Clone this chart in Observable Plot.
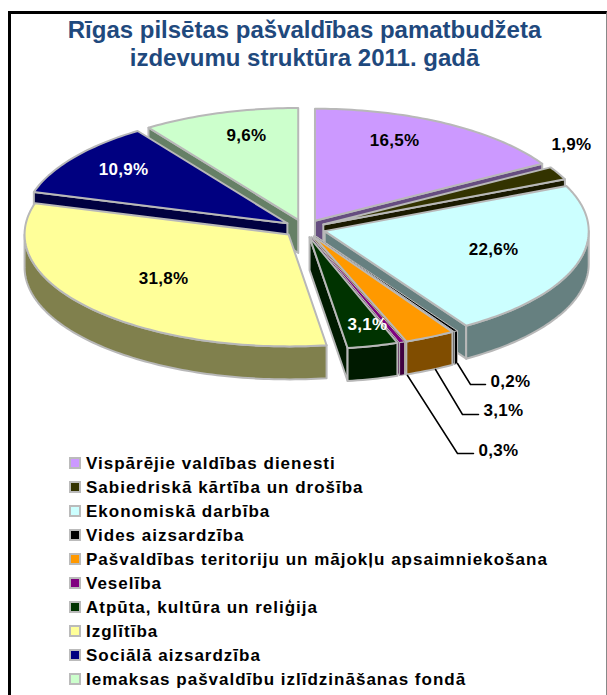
<!DOCTYPE html>
<html><head><meta charset="utf-8">
<script src="https://cdn.jsdelivr.net/npm/d3@7"></script>
<script src="https://cdn.jsdelivr.net/npm/@observablehq/plot@0.6"></script>
<style>
html,body{margin:0;padding:0;background:#fff;}
#page{position:relative;width:607px;height:695px;overflow:hidden;font-family:"Liberation Sans",Arial,sans-serif;}
#frame{position:absolute;left:8px;top:11px;width:599px;height:684px;border-left:3px solid #000;border-top:3px solid #000;border-right:1px solid #888;box-sizing:border-box;}
#title{position:absolute;left:0;width:609px;top:16px;text-align:center;color:#1F497D;font-weight:bold;font-size:24px;line-height:28px;}
#chart{position:absolute;left:0;top:90px;}
#legend{position:absolute;left:69px;top:454px;}
.row{position:relative;height:24px;line-height:20px;font-weight:bold;font-size:17px;letter-spacing:1px;color:#000;padding-left:17px;white-space:nowrap;}
.sw{position:absolute;left:0;top:3px;width:8px;height:8px;border:2px solid #bbb;}
svg text{font-family:"Liberation Sans",Arial,sans-serif;letter-spacing:.3px;}
</style></head><body>
<div id="page"><div id="frame"></div>
<div id="title">Rīgas pilsētas pašvaldības pamatbudžeta<br>izdevumu struktūra 2011. gadā</div>
<div id="chart"></div><div id="legend"></div></div>
<script>
const categories = ["Vispārējie valdības dienesti","Sabiedriskā kārtība un drošība","Ekonomiskā darbība","Vides aizsardzība","Pašvaldības teritoriju un mājokļu apsaimniekošana","Veselība","Atpūta, kultūra un reliģija","Izglītība","Sociālā aizsardzība","Iemaksas pašvaldību izlīdzināšanas fondā"];
const values = [16.5,1.9,22.6,0.2,3.1,0.3,3.1,31.8,10.9,9.6];
const valueLabels = ["16,5%","1,9%","22,6%","0,2%","3,1%","0,3%","3,1%","31,8%","10,9%","9,6%"];
const topColors = ["#CC99FF","#333300","#CCFFFF","#000000","#FF9900","#800080","#003300","#FFFF99","#000080","#CCFFCC"];
const wallColors = ["#664D80","#1A1A00","#668080","#000000","#804D00","#400040","#001A00","#80804D","#000040","#668066"];
const drawOrder = [0,9,8,1,2,3,4,7,5,6];

// unit-pie geometry: the x and y scales turn the unit circle into the tilted ellipse
const W = 607, H = 370, top0 = 90;
const cx = 304, cy = 228 - top0, rx = 264, ry = 112;
const explode = 0.08, depth = 33 / ry;
const edge = "#b8b8b8";
const pie = d3.pie().sort(null).startAngle(0).endAngle(2*Math.PI)(values);
const P = (a, ox, oy) => ({u: ox + Math.sin(a), v: oy + Math.cos(a)});
const arcPts = (a0, a1, ox, oy) => {
  const n = Math.max(2, Math.ceil((a1-a0)/0.02));
  return d3.range(n+1).map(i => P(a0 + (a1-a0)*i/n, ox, oy));
};
const marks = [];
const poly = (pts, fill, sw=2) => marks.push(Plot.line(pts, {x:"u", y:"v", fill, stroke:edge, strokeWidth:sw, curve:"linear-closed", strokeLinejoin:"round"}));
for (const i of drawOrder) {
  const s = pie[i], mid = (s.startAngle+s.endAngle)/2, a0 = s.startAngle, a1 = s.endAngle;
  const ox = explode*Math.sin(mid), oy = explode*Math.cos(mid);
  const apex = {u:ox, v:oy};
  const down = p => ({u:p.u, v:p.v-depth});
  const sw = values[i] < 0.5 ? 1 : 2;
  // cut faces that turn toward the viewer
  if (Math.sin(a0) < -1e-6) { const p = P(a0,ox,oy); poly([apex, p, down(p), down(apex)], wallColors[i], sw); }
  if (Math.sin(a1) >  1e-6) { const p = P(a1,ox,oy); poly([apex, p, down(p), down(apex)], wallColors[i], sw); }
  // outer wall: only the front half of the rim
  const f0 = Math.max(a0, Math.PI/2), f1 = Math.min(a1, 3*Math.PI/2);
  if (f1 > f0) { const rim = arcPts(f0, f1, ox, oy); poly([...rim, ...rim.map(down).reverse()], wallColors[i], sw); }
  // top
  poly([apex, ...arcPts(a0, a1, ox, oy)], topColors[i], sw);
}
const X = px => (px - cx)/rx, Y = py => (cy - (py - top0))/ry;
const labelPx = [[394,140],[571,144],[493,249],[510,381],[503,410],[498,450],[367,324],[163,278],[123,169],[246,135]];
const labelFill = ["#000","#000","#000","#000","#000","#000","#fff","#000","#fff","#000"];
const leaders = [[3,[[457,363],[470,384],[485,384]]],[4,[[435,369],[462,414],[478,414]]],[5,[[407,375],[457,453],[473,453]]]];
for (const [i,pts] of leaders)
  marks.push(Plot.line(pts.map(p=>({u:X(p[0]),v:Y(p[1])})), {x:"u",y:"v",stroke:"#000",strokeWidth:1.5}));
marks.push(Plot.text(values.map((v,i)=>({u:X(labelPx[i][0]),v:Y(labelPx[i][1]),t:valueLabels[i],c:labelFill[i]})), {x:"u",y:"v",text:"t",fill:"c",fontWeight:"bold",fontSize:17,textAnchor:"middle",lineAnchor:"middle"}));

const chart = Plot.plot({width:W,height:H,margin:0,
  x:{domain:[X(0),X(W)],range:[0,W],axis:null},
  y:{domain:[Y(top0+H),Y(top0)],range:[H,0],axis:null},
  color:{type:"identity"},
  style:{background:"transparent",overflow:"visible"},
  marks});
document.getElementById("chart").append(chart);
const lg = document.getElementById("legend");
categories.forEach((c,i)=>{
  const r=document.createElement("div");r.className="row";
  const s=document.createElement("span");s.className="sw";s.style.background=topColors[i];
  r.append(s,document.createTextNode(c));lg.append(r);
});
</script></body></html>
